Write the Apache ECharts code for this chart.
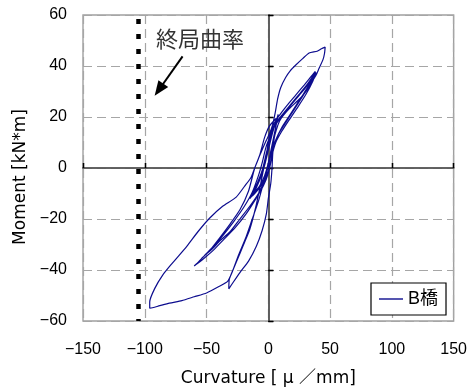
<!DOCTYPE html>
<html><head><meta charset="utf-8">
<script src="https://cdn.jsdelivr.net/npm/echarts@6/dist/echarts.min.js"></script>
<style>html,body{margin:0;padding:0;background:#fff}#c{width:470px;height:392px}</style>
</head><body><div id="c"></div>
<script>
// axis ticks
const xTicks = [-150, -100, -50, 0, 50, 100, 150];
const yTicks = [-60, -40, -20, 0, 20, 40, 60];
const seriesName = 'B橋';
const ultimateCurvature = -105; // 終局曲率 (dotted line)

// hysteresis path, branch by branch: [curvature, moment]
const smallCycles = [[0,0],[1.5,5],[3,9],[5,13],[3.5,9],[1,3],[-2,-3],[-6,-7],[-10,-9.5],[-13,-11],[-10,-8],[-6,-3.5],[-3,1],[0,7],[3,13],[6,18],[8,21],[6,16],[3,9],[0,2],[-3,-3],[-7,-7],[-11,-9.5],[-15,-12],[-13,-10],[-9,-6],[-5,-1],[-2,5]];
const cycle1 = [[1,11],[4,16],[8,19],[14,22.5],[20,26],[26,29.5],[31,32.5],[35,35.3],[38,37.7],[36,35],[31.5,31],[25,26],[19,21.5],[13,17],[8,13],[4,7],[1,0],[-3,-5],[-8,-10],[-15,-15],[-23,-20],[-31,-25],[-39,-28.5],[-46,-32],[-52,-34.5],[-49,-33],[-43,-30],[-36,-26],[-28,-21],[-20,-15.5],[-13,-9.5],[-8,-3],[-5,2],[-2,8],[2,13],[6,17],[12,21],[18,24.5],[25,28.5],[31,32],[36,35.5],[38.5,37.5]];
const cycle2 = [[36,34],[30.6,29],[24,24],[17,19],[11,14.5],[6,10],[2.5,4],[0,-2],[-4,-7],[-10,-12],[-18,-18],[-27,-23.5],[-36,-28],[-44,-32],[-51,-35],[-56,-37],[-60,-38.4],[-58,-37.5],[-53,-35],[-46,-31.5],[-39.5,-27.5],[-31,-22],[-23,-16.4],[-16,-9],[-11,0],[-6,6],[-2,10.5],[1,13.5],[3.5,17],[5.5,21.5],[7.5,27],[10,31.5],[14,35.5],[18,38.3],[22,40.3],[28,43],[33,45.1],[39.5,45.8],[43,46.8],[46,47.4]];
const cycle3 = [[45.5,45],[44.3,42.6],[41,39],[38.4,36.2],[34,32.8],[30.4,29.9],[24,26.5],[17,23.3],[12,20.5],[9,18.3],[6.5,15],[4.8,11.8],[3.5,5],[3,0],[2,-6],[0,-12],[-1.6,-18],[-5,-24.5],[-9.7,-30.7],[-16,-36.5],[-23,-41],[-28,-44.5],[-32,-47.4],[-31.5,-43.5],[-26,-37],[-20,-30],[-15,-24],[-10,-15],[-6.5,-7],[-4.5,-2],[-2,4],[0,10],[3,16],[8,20],[15,24.5],[22,28.5],[29,32.5],[34,35.5],[38,37.9]];
const cycle4 = [[35,34.3],[29,29.5],[23,25],[17,20.5],[11,16],[6,11],[2,5],[-1,-1],[-4,-6],[-8,-13],[-13,-20],[-18,-27],[-24,-34],[-29,-40.5],[-33,-44.5],[-40,-46.5],[-50,-49],[-60,-50.5],[-70,-52],[-80,-53],[-90,-54.3],[-96,-55],[-96,-52.5],[-92,-47.3],[-85.5,-42],[-78,-37.5],[-66,-30.7],[-57,-25],[-47.6,-19.7],[-37,-15],[-26,-11.4],[-19,-7],[-14,-3.7],[-11,0],[-7,5],[-3,12],[1,16.5],[6.5,19.5]];

const path = [].concat(smallCycles, cycle1, cycle2, cycle3, cycle4);

const xMin = xTicks[0], xMax = xTicks[xTicks.length-1], xStep = xTicks[1]-xTicks[0];
const yMin = yTicks[0], yMax = yTicks[yTicks.length-1], yStep = yTicks[1]-yTicks[0];
const fmt = v => String(v).replace('-', '\u2212');

const zeroAxisX = (pos) => ({
  type:'value', min:xMin, max:xMax, interval:xStep, position:pos,
  axisLine:{show:true, onZero:true, onZeroAxisIndex:0, lineStyle:{color:'#5a5a5a', width:1.6}},
  axisTick:{show:true, length:5, lineStyle:{color:'#000', width:1.3}},
  axisLabel:{show:false}, splitLine:{show:false}
});
const zeroAxisY = (pos) => ({
  type:'value', min:yMin, max:yMax, interval:yStep, position:pos,
  axisLine:{show:true, onZero:true, onZeroAxisIndex:0, lineStyle:{color:'#5a5a5a', width:1.6}},
  axisTick:{show:true, length:5, lineStyle:{color:'#000', width:1.3}},
  axisLabel:{show:false}, splitLine:{show:false}
});

const chart = echarts.init(document.getElementById('c'), null, {renderer:'canvas'});
chart.setOption({
  animation:false,
  backgroundColor:'#fff',
  grid:{left:83, right:15, top:15, bottom:66, show:true, borderColor:'#a0a0a0', borderWidth:1.4, backgroundColor:'transparent'},
  xAxis:[
    {type:'value', min:xMin, max:xMax, interval:xStep, position:'bottom',
     name:'Curvature [ μ ／mm]', nameLocation:'middle', nameGap:49,
     nameTextStyle:{fontSize:17, fontFamily:'DejaVu Sans, Noto Sans CJK JP', color:'#000'},
     axisLine:{show:false, onZero:false}, axisTick:{show:false},
     axisLabel:{margin:21, fontSize:16, fontFamily:'Liberation Sans', color:'#000', formatter:fmt},
     splitLine:{show:true, lineStyle:{color:'#a6a6a6', width:1.2, type:[9,5]}}},
    zeroAxisX('top'),
    zeroAxisX('top')
  ],
  yAxis:[
    {type:'value', min:yMin, max:yMax, interval:yStep, position:'left',
     name:'Moment [kN*m]', nameLocation:'middle', nameGap:54, nameRotate:90,
     nameTextStyle:{fontSize:17, fontFamily:'DejaVu Sans', color:'#000', padding:[0,18,0,0]},
     axisLine:{show:false, onZero:false}, axisTick:{show:false},
     axisLabel:{margin:16, fontSize:16, fontFamily:'Liberation Sans', color:'#000', formatter:fmt},
     splitLine:{show:true, lineStyle:{color:'#a6a6a6', width:1.2, type:[9,5]}}},
    zeroAxisY('right'),
    zeroAxisY('right')
  ],
  legend:{left:371, top:283, data:[{name:seriesName, icon:'rect'}], itemWidth:24, itemHeight:1.4,
    padding:[7,8,7,8], borderColor:'#000', borderWidth:1.2, backgroundColor:'#fff', borderRadius:0,
    selectedMode:false,
    textStyle:{fontSize:18, fontFamily:'Liberation Sans, Noto Sans CJK JP', color:'#000'}},
  graphic:[
    {type:'text', left:156, top:28, z:10, style:{text:'終局曲率', font:'22px "Noto Sans CJK JP"', fill:'#333'}}
  ],
  series:[
    {type:'line', name:seriesName, data:path, xAxisIndex:0, yAxisIndex:0,
     showSymbol:false, symbol:'none', smooth:0.2, z:5,
     lineStyle:{color:'#0c0c8e', width:1.2}, itemStyle:{color:'#0c0c8e'},
     emphasis:{disabled:true},
     markLine:{silent:true, animation:false, symbol:['none','none'], label:{show:false}, emphasis:{disabled:true},
       data:[
         {xAxis:ultimateCurvature, lineStyle:{color:'#000', width:4.5, type:[5,10], dashOffset:3}},
         [{coord:[-69.4,43.8], symbol:'none'},
          {coord:[-88.5,30.7], symbol:'triangle', symbolSize:[12,15], lineStyle:{color:'#000', width:2, type:'solid'}}]
       ]}
    }
  ]
});
</script></body></html>
